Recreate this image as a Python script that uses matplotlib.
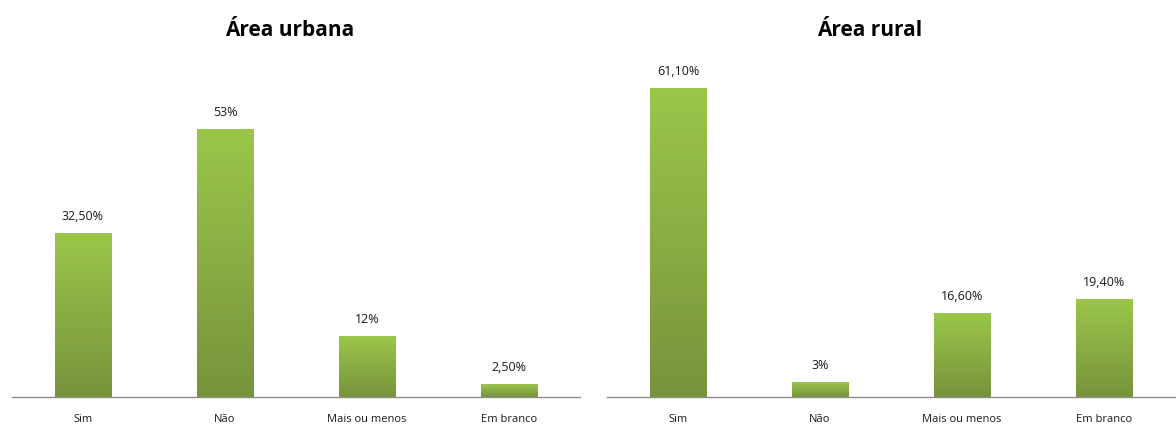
import numpy as np
import matplotlib
matplotlib.use("Agg")
from matplotlib import pyplot as plt
from matplotlib.colors import LinearSegmentedColormap

plt.rcParams['font.family'] = ['Open Sans', 'DejaVu Sans']

# data
categories = ['Sim', 'Não', 'Mais ou menos', 'Em branco']
urbana = [32.5, 53, 12, 2.5]
urbana_labels = ['32,50%', '53%', '12%', '2,50%']
rural = [61.1, 3, 16.6, 19.4]
rural_labels = ['61,10%', '3%', '16,60%', '19,40%']

green = LinearSegmentedColormap.from_list('green', ['#77933c', '#9bc64a'])


def draw_panel(ax, values, labels):
    x = np.arange(len(categories))
    bars = ax.bar(x, values, width=0.4, color='none', edgecolor='none')
    grad = np.linspace(0, 1, 256).reshape(-1, 1)
    # gradient fill, clipped to each bar
    for b in bars:
        x0, y0 = b.get_x(), b.get_y()
        im = ax.imshow(grad, cmap=green, origin='lower', aspect='auto',
                       extent=[x0, x0 + b.get_width(), y0, y0 + b.get_height()],
                       zorder=2)
        im.set_clip_path(b)
    for xi, v, lab in zip(x, values, labels):
        ax.text(xi, v + 2.0, lab, ha='center', va='bottom', fontsize=9,
                color='#1a1a1a')
    ax.set_xlim(-0.5, len(categories) - 0.5)
    ax.set_ylim(0, 70)
    ax.set_xticks(x)
    ax.set_xticklabels(categories, fontsize=8, color='#1a1a1a')
    ax.tick_params(axis='x', length=0, pad=12)
    ax.set_yticks([])
    for s in ['top', 'right', 'left']:
        ax.spines[s].set_visible(False)
    ax.spines['bottom'].set_color('#8c8c8c')
    ax.spines['bottom'].set_linewidth(1.0)


fig = plt.figure(figsize=(11.76, 4.29), dpi=100)
ax1 = fig.add_axes([12 / 1176, 32 / 429, 568 / 1176, 353.5 / 429])
ax2 = fig.add_axes([607 / 1176, 32 / 429, 568 / 1176, 353.5 / 429])
draw_panel(ax1, urbana, urbana_labels)
draw_panel(ax2, rural, rural_labels)

fig.text(290 / 1176, 1 - 30 / 429, 'Área urbana', ha='center', va='center',
         fontsize=15, fontweight='bold')
fig.text(870 / 1176, 1 - 30 / 429, 'Área rural', ha='center', va='center',
         fontsize=15, fontweight='bold')

fig.savefig('out.png', dpi=100)
